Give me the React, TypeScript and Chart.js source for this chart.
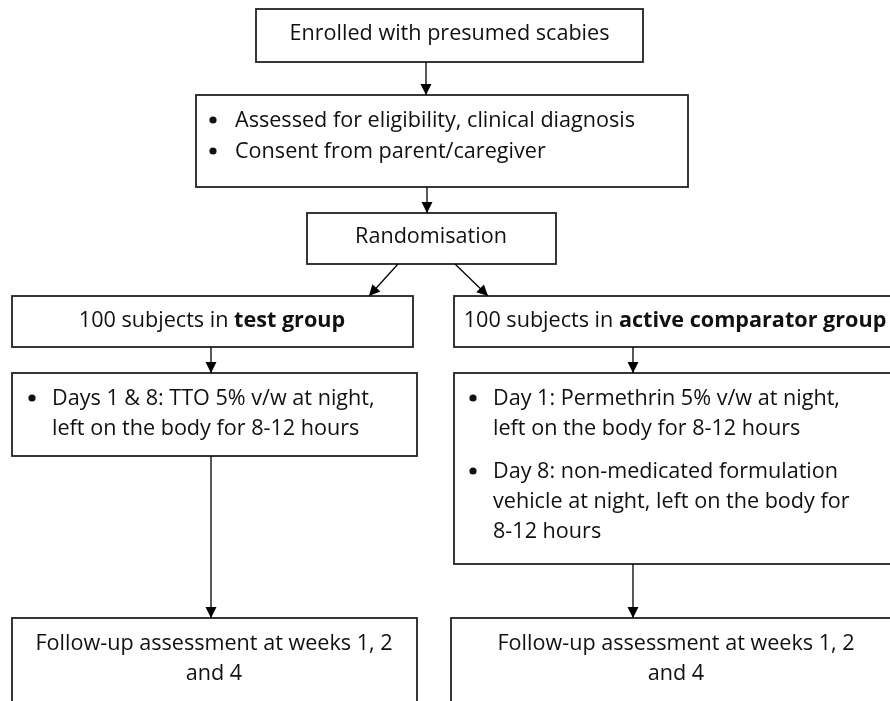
import { useEffect, useRef } from "react";
import { Chart, registerables } from "chart.js";

Chart.register(...registerables);

// ---- Flowchart content ----
const nodeLines: string[][] = [
  ["Enrolled with presumed scabies"],
  ["Assessed for eligibility, clinical diagnosis", "Consent from parent/caregiver"],
  ["Randomisation"],
  ["100 subjects in **test group**"],
  ["100 subjects in **active comparator group**"],
  ["Days 1 & 8: TTO 5% v/w at night,", "left on the body for 8-12 hours"],
  [
    "Day 1: Permethrin 5% v/w at night,",
    "left on the body for 8-12 hours",
    "Day 8: non-medicated formulation",
    "vehicle at night, left on the body for",
    "8-12 hours",
  ],
  ["Follow-up assessment at weeks 1, 2", "and 4"],
  ["Follow-up assessment at weeks 1, 2", "and 4"],
];
// which lines start a bullet (1) / continue a bullet (0) / centred (-1)
const nodeBullets: number[][] = [
  [-1],
  [1, 1],
  [-1],
  [-1],
  [-1],
  [1, 0],
  [1, 0, 1, 0, 0],
  [-1, -1],
  [-1, -1],
];

// ---- Layout (diagram units, y downward) ----
const nodeLeft = [256, 196, 307, 12, 454, 12, 454, 12, 451];
const nodeRight = [643, 688, 556, 413, 898, 417, 898, 417, 898];
const nodeTop = [9, 95, 213, 296, 296, 373, 373, 618, 618];
const nodeBottom = [62, 187, 264, 347, 347, 456, 564, 720, 720];
const nodeCenterX = [449.5, 0, 431, 212, 675, 0, 0, 214, 676];
const nodeBaseline: number[][] = [
  [40],
  [127, 158],
  [243],
  [327],
  [327],
  [405, 435],
  [405, 435, 478, 508, 538],
  [650, 680],
  [650, 680],
];
const bulletOffset = [0, 17, 0, 0, 0, 20, 19, 0, 0];
const textOffset = [0, 39, 0, 0, 0, 40, 39, 0, 0];

const connectorFrom: [number, number][] = [
  [426, 62], [427, 187], [398, 264], [455, 264], [211, 347], [633, 347], [211, 456], [633, 564],
];
const connectorTo: [number, number][] = [
  [426, 95], [427, 213], [369, 296], [488, 296], [211, 373], [633, 373], [211, 618], [633, 618],
];

const FONT_FAMILY = "'Open Sans', Lato, sans-serif";
const FONT_SIZE = 21.6;
const INK = "#111111";

function parseRich(s: string): { t: string; b: boolean }[] {
  const parts = s.split("**");
  return parts.map((t, i) => ({ t, b: i % 2 === 1 })).filter((p) => p.t.length > 0);
}

function fontFor(b: boolean) {
  return `${b ? "bold " : ""}${FONT_SIZE}px ${FONT_FAMILY}`;
}

const flowPlugin = {
  id: "flowBoxes",
  beforeDatasetsDraw(chart: any) {
    const { ctx, scales } = chart;
    const xs = scales.x;
    const ys = scales.y;
    ctx.save();
    for (let i = 0; i < nodeLines.length; i++) {
      const l = xs.getPixelForValue(nodeLeft[i]);
      const r = xs.getPixelForValue(nodeRight[i]);
      const t = ys.getPixelForValue(nodeTop[i]);
      const b = ys.getPixelForValue(nodeBottom[i]);
      ctx.fillStyle = "#ffffff";
      ctx.fillRect(l, t, r - l, b - t);
      ctx.strokeStyle = "#222222";
      ctx.lineWidth = 1.8;
      ctx.strokeRect(l, t, r - l, b - t);

      ctx.fillStyle = INK;
      ctx.textBaseline = "alphabetic";
      nodeLines[i].forEach((line, j) => {
        const y = ys.getPixelForValue(nodeBaseline[i][j]);
        const kind = nodeBullets[i][j];
        const segs = parseRich(line);
        if (kind === -1) {
          let total = 0;
          segs.forEach((s) => {
            ctx.font = fontFor(s.b);
            total += ctx.measureText(s.t).width;
          });
          const cx = xs.getPixelForValue(nodeCenterX[i]);
          let x = cx - total / 2;
          ctx.textAlign = "left";
          segs.forEach((s) => {
            ctx.font = fontFor(s.b);
            ctx.fillText(s.t, x, y);
            x += ctx.measureText(s.t).width;
          });
        } else {
          if (kind === 1) {
            ctx.beginPath();
            ctx.arc(l + bulletOffset[i], y - 7, 3.6, 0, Math.PI * 2);
            ctx.fill();
          }
          ctx.textAlign = "left";
          let x = l + textOffset[i];
          segs.forEach((s) => {
            ctx.font = fontFor(s.b);
            ctx.fillText(s.t, x, y);
            x += ctx.measureText(s.t).width;
          });
        }
      });
    }
    ctx.restore();
  },
  afterDatasetsDraw(chart: any) {
    const { ctx } = chart;
    ctx.save();
    ctx.fillStyle = "#000000";
    chart.data.datasets.forEach((_: any, i: number) => {
      const pts = chart.getDatasetMeta(i).data;
      if (pts.length < 2) return;
      const a = pts[pts.length - 2];
      const p = pts[pts.length - 1];
      const ang = Math.atan2(p.y - a.y, p.x - a.x);
      const len = 11;
      const half = 5.5;
      const bx = p.x - len * Math.cos(ang);
      const by = p.y - len * Math.sin(ang);
      ctx.beginPath();
      ctx.moveTo(p.x, p.y);
      ctx.lineTo(bx + half * Math.sin(ang), by - half * Math.cos(ang));
      ctx.lineTo(bx - half * Math.sin(ang), by + half * Math.cos(ang));
      ctx.closePath();
      ctx.fill();
    });
    ctx.restore();
  },
};

export default function App() {
  const ref = useRef<HTMLCanvasElement | null>(null);
  useEffect(() => {
    if (!ref.current) return;
    const datasets = connectorFrom.map((f, i) => ({
      data: [
        { x: f[0], y: f[1] },
        { x: connectorTo[i][0], y: connectorTo[i][1] },
      ],
      showLine: true,
      borderColor: "#000000",
      borderWidth: 1.3,
      pointRadius: 0,
      fill: false,
    }));
    const chart = new Chart(ref.current, {
      type: "scatter",
      data: { datasets },
      options: {
        animation: false,
        responsive: false,
        devicePixelRatio: 1,
        layout: { padding: 0 },
        events: [],
        scales: {
          x: { type: "linear", min: 0, max: 890, display: false },
          y: { type: "linear", min: 0, max: 701, reverse: true, display: false },
        },
        plugins: { legend: { display: false }, tooltip: { enabled: false } },
      },
      plugins: [flowPlugin],
    } as any);
    return () => chart.destroy();
  }, []);
  return (
    <div style={{ position: "fixed", left: 0, top: 0, width: 890, height: 701, background: "#ffffff" }}>
      <canvas ref={ref} width={890} height={701} style={{ display: "block", width: 890, height: 701 }} />
    </div>
  );
}
